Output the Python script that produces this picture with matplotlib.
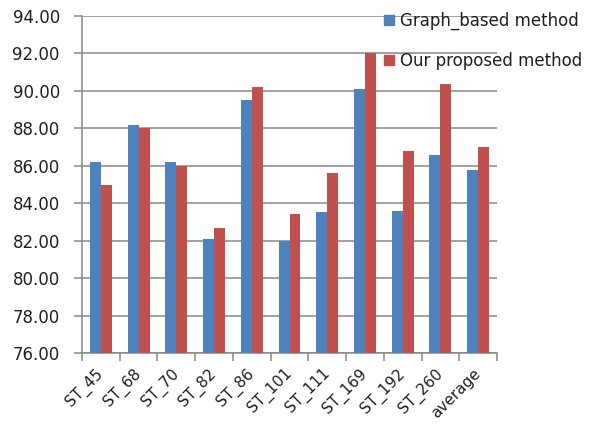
import matplotlib
matplotlib.use("Agg")
import matplotlib.pyplot as plt
import numpy as np
from matplotlib.patches import Patch

categories = ["ST_45", "ST_68", "ST_70", "ST_82", "ST_86", "ST_101",
              "ST_111", "ST_169", "ST_192", "ST_260", "average"]
graph_based = [86.2, 88.2, 86.2, 82.1, 89.5, 82.0, 83.55, 90.1, 83.6, 86.6, 85.8]
proposed = [85.0, 88.0, 86.0, 82.7, 90.2, 83.45, 85.6, 92.0, 86.8, 90.35, 87.0]
series_names = ["Graph_based method", "Our proposed method"]

blue = "#4F81BD"
red = "#C0504D"
grid_c = "#878787"
text_c = "#1F1F1F"

plt.rcParams["font.family"] = ["DejaVu Sans"]

fig = plt.figure(figsize=(6.03, 4.25), dpi=100)
ax = fig.add_axes([82 / 603, 1 - 353.3 / 425, 415 / 603, 337.3 / 425])

x = np.arange(len(categories))
w = 0.29
ax.bar(x - w / 2, np.array(graph_based) - 76, w, bottom=76, color=blue, zorder=3)
ax.bar(x + w / 2, np.array(proposed) - 76, w, bottom=76, color=red, zorder=3)

ax.set_xlim(-0.5, len(categories) - 0.5)
ax.set_ylim(76, 94)
yt = np.arange(76, 94.1, 2)
ax.set_yticks(yt)
ax.set_yticklabels([f"{v:.2f}" for v in yt], fontsize=12, color=text_c)
ax.yaxis.grid(True, color=grid_c, linewidth=1.1, zorder=0)
ax.set_axisbelow(True)

# category labels sit centred, tick marks sit on category boundaries
ax.set_xticks(x)
ax.set_xticklabels(categories, rotation=45, ha="right", va="center",
                   rotation_mode="anchor", fontsize=11, color=text_c)
ax.tick_params(axis="x", length=0, pad=13)
ax.set_xticks(np.arange(-0.5, len(categories), 1), minor=True)
ax.tick_params(axis="x", which="minor", length=6, color=grid_c, width=1.1)
ax.tick_params(axis="y", length=6, color=grid_c, width=1.1, pad=10)

for s in ["top", "right"]:
    ax.spines[s].set_visible(False)
for s in ["left", "bottom"]:
    ax.spines[s].set_color(grid_c)
    ax.spines[s].set_linewidth(1.1)

handles = [Patch(color=blue), Patch(color=red)]
ax.legend(handles, series_names, loc="upper left", bbox_to_anchor=(0.728, 1.012),
          frameon=False, fontsize=12, handlelength=0.6, handleheight=0.6,
          handletextpad=0.35, labelspacing=1.3, borderpad=0, borderaxespad=0,
          labelcolor=text_c)

fig.savefig("out.png", dpi=100)
